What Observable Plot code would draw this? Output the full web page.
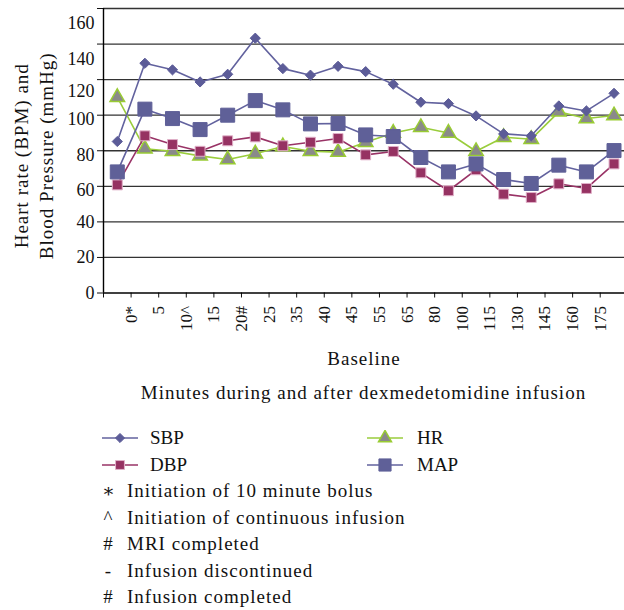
<!DOCTYPE html>
<html><head><meta charset="utf-8">
<script src="https://cdn.jsdelivr.net/npm/d3@7"></script>
<script src="https://cdn.jsdelivr.net/npm/@observablehq/plot@0.6"></script>
<style>
body{margin:0;background:#fff;font-family:"Liberation Serif","DejaVu Serif",serif;color:#111;}
#wrap{width:624px;position:relative;}
#wrap svg g[aria-label="text"] text{letter-spacing:1px;}
.caption{height:42px;line-height:42px;padding-left:103px;text-align:center;font-size:19px;letter-spacing:1px;}
.legend{padding-top:11px;font-size:18px;}
.lrow{height:26.5px;line-height:26.5px;position:relative;}
.item{position:absolute;top:0;height:26.5px;}
.item svg{position:absolute;top:5.25px;}
.item span{position:absolute;top:0;white-space:nowrap;font-size:19px;}
.note{position:absolute;white-space:nowrap;font-size:19px;letter-spacing:1px;}
</style></head><body>
<div id="wrap"></div>
<script>
// Data
const timeLabels = ["0*","5","10^","15","20#","25","35","40","45","55","65","80","100","115","130","145","160","175"];
const sbp = [85.2,129.2,125.5,118.7,123,143.3,126.2,122.5,127.5,124.5,117.4,107.3,106.5,99.6,89.5,88.4,105.2,102.4,112.3];
const dbp = [60.8,88.4,83.5,79.7,85.6,87.8,82.8,84.8,86.9,77.7,79.6,67.6,57.5,69.3,55.6,53.7,61.4,58.8,72.6];
const hr  = [110.1,81.1,79.7,77.1,75.1,78.3,82.4,79.7,79.2,84.8,90,93.2,90,79.7,87.6,86.5,101.9,98.1,99.8];
const map = [68.1,103.4,98.1,91.9,100,108.2,103,95.1,95.3,88.9,88,76.2,68.1,72.6,63.8,61.6,71.9,68.1,80.1];
const yTicks = [0,20,40,60,80,100,120,140,160];
const seriesNames = ["SBP","DBP","HR","MAP"];
const yTitle = "Heart rate (BPM) and\nBlood Pressure (mmHg)";
const xTitle = "Baseline";
const caption = "Minutes during and after dexmedetomidine infusion";
const notes = [["∗","Initiation of 10 minute bolus"],["^","Initiation of continuous infusion"],["#","MRI completed"],["-","Infusion discontinued"],["#","Infusion completed"]];

const styles = {
  SBP:{line:"#62629e", symbol:"diamond2", r:4.6, fill:"#5c5c98", stroke:"#5c5c98", sw:1},
  DBP:{line:"#993366", symbol:"square", r:5.6, fill:"#963262", stroke:"#e0b0c8", sw:1},
  HR:{line:"#9acd3c", symbol:"triangle", r:5.4, fill:"#8a8a8a", stroke:"#99cc33", sw:1.5},
  MAP:{line:"#62629e", symbol:"square", r:7.9, fill:"#5f6098", stroke:"#5f6098", sw:1}
};
const values = {SBP:sbp, DBP:dbp, HR:hr, MAP:map};
const rows = (vals) => vals.map((v,i)=>({i:i+0.5, v}));
const drawOrder = ["HR","DBP","SBP","MAP"];

const seriesMarks = drawOrder.flatMap(name => {
  const s = styles[name];
  return [
    Plot.line(rows(values[name]), {x:"i", y:"v", stroke:s.line, strokeWidth:1.6}),
    Plot.dot(rows(values[name]), {x:"i", y:"v", symbol:s.symbol, r:s.r, fill:s.fill, stroke:s.stroke, strokeWidth:s.sw})
  ];
});

// tick labels sit slightly lower near the top in the reference
const labelGroups = [[[160,140],15],[[120],12],[[100,80,60],4],[[40,20,0],0]];

const plot = Plot.plot({
  width:624, height:372,
  marginLeft:103, marginRight:0, marginTop:8, marginBottom:79.5,
  style:{fontFamily:'"Liberation Serif","DejaVu Serif",serif', fontSize:"18px", color:"#111", background:"#fff", overflow:"visible"},
  x:{domain:[0,18.88]},
  y:{domain:[0,160]},
  marks:[
    Plot.ruleY(yTicks.filter(d=>d>0), {stroke:"#333", strokeWidth:1.3}),
    Plot.axisY({ticks:yTicks, tickSize:6, tickFormat:() => "", label:null}),
    ...labelGroups.map(([t,dy]) => Plot.axisY({ticks:t, tickSize:0, tickPadding:9, dy, fontSize:18, label:null})),
    Plot.axisX({ticks:d3.range(0,19), tickFormat:i => i===0 ? "" : timeLabels[i-1],
      tickRotate:-90, tickSize:5, tickPadding:8, fontSize:17, label:null}),
    Plot.text([yTitle], {text:d=>d, frameAnchor:"left", rotate:-90, dx:-93, dy:5, lineAnchor:"top", textAnchor:"middle", fontSize:19, lineHeight:1.3}),
    Plot.text([xTitle], {text:d=>d, frameAnchor:"bottom", dy:66, lineAnchor:"middle", textAnchor:"middle", fontSize:19}),
    Plot.ruleX([0], {stroke:"#000", strokeWidth:1.4}),
    Plot.ruleY([0], {stroke:"#000", strokeWidth:1.4}),
    ...seriesMarks
  ]
});
const wrap = document.getElementById("wrap");
wrap.appendChild(plot);

const cap = document.createElement("div");
cap.className = "caption";
cap.textContent = caption;
wrap.appendChild(cap);

function swatch(name){
  const s = styles[name];
  const w = 36, h = 16;
  const size = Math.PI * s.r * s.r * (name==="MAP" ? 0.75 : 0.8);
  const symMap = {diamond2:d3.symbolDiamond2, square:d3.symbolSquare, triangle:d3.symbolTriangle};
  const path = d3.symbol(symMap[s.symbol], size)();
  return `<svg width="${w}" height="${h}"><line x1="0" x2="${w}" y1="${h/2}" y2="${h/2}" stroke="${s.line}" stroke-width="1.6"/>`+
    `<path d="${path}" transform="translate(${w/2},${h/2})" fill="${s.fill}" stroke="${s.stroke}" stroke-width="${s.sw}"/></svg>`;
}
const legend = document.createElement("div");
legend.className = "legend";
const pairs = [[seriesNames[0], seriesNames[2]], [seriesNames[1], seriesNames[3]]];
pairs.forEach(([a,b]) => {
  const r = document.createElement("div");
  r.className = "lrow";
  r.innerHTML = `<div class="item" style="left:102px">${swatch(a)}<span style="left:48px">${a}</span></div>`+
                `<div class="item" style="left:367px">${swatch(b)}<span style="left:50px">${b}</span></div>`;
  legend.appendChild(r);
});
notes.forEach(([sym,txt]) => {
  const r = document.createElement("div");
  r.className = "lrow";
  r.innerHTML = `<span class="note" style="left:102px;width:12px;text-align:center;letter-spacing:0">${sym}</span><span class="note" style="left:127px">${txt}</span>`;
  legend.appendChild(r);
});
wrap.appendChild(legend);
</script>
</body></html>
